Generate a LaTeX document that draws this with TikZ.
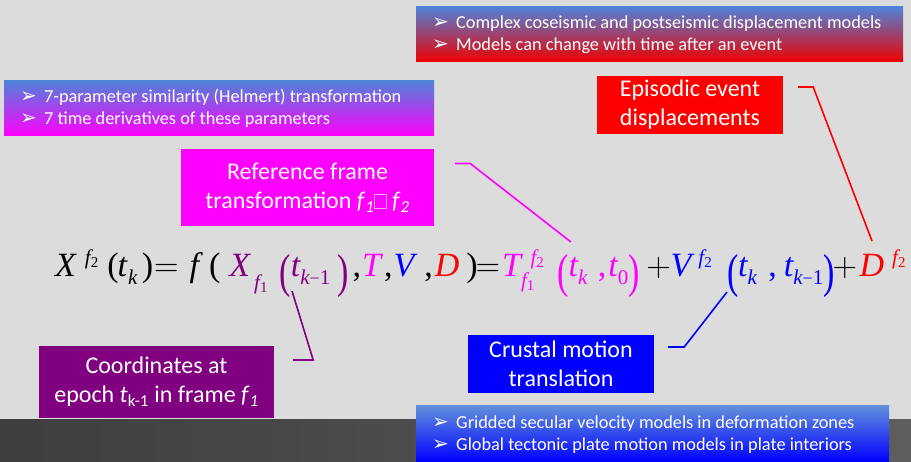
\RequirePackage{fix-cm}
\documentclass[tikz,border=0pt]{standalone}
\usepackage[no-math]{fontspec}
\usepackage{graphicx}
\setmainfont{Carlito}
\newfontfamily\symbfont{DejaVu Sans}
\newfontfamily\eqserif[NFSSFamily=lser]{Liberation Serif}
\usepackage{xcolor}
% Times-like equation: letters and digits from Liberation Serif
\DeclareSymbolFont{eqletters}{TU}{lser}{m}{it}
\DeclareSymbolFont{eqdigits}{TU}{lser}{m}{n}
\DeclareMathSymbol{X}{\mathalpha}{eqletters}{`X}
\DeclareMathSymbol{T}{\mathalpha}{eqletters}{`T}
\DeclareMathSymbol{V}{\mathalpha}{eqletters}{`V}
\DeclareMathSymbol{D}{\mathalpha}{eqletters}{`D}
\DeclareMathSymbol{f}{\mathalpha}{eqletters}{`f}
\DeclareMathSymbol{t}{\mathalpha}{eqletters}{`t}
\DeclareMathSymbol{k}{\mathalpha}{eqletters}{`k}
\DeclareMathSymbol{0}{\mathalpha}{eqdigits}{`0}
\DeclareMathSymbol{1}{\mathalpha}{eqdigits}{`1}
\DeclareMathSymbol{2}{\mathalpha}{eqdigits}{`2}
\DeclareMathSymbol{(}{\mathopen}{eqdigits}{`(}
\DeclareMathSymbol{)}{\mathclose}{eqdigits}{`)}
\DeclareMathSymbol{,}{\mathpunct}{eqdigits}{`,}
\DeclareMathSizes{34}{34}{21}{15}
\newcommand{\eqminus}{\mathbin{\hbox{\eqserif\fontsize{18}{18}\selectfont −}}}
\newcommand{\bigo}{\mathopen{\raisebox{-11pt}{\scalebox{1}[1.4]{$($}}}}
\newcommand{\bigc}{\mathclose{\raisebox{-11pt}{\scalebox{1}[1.4]{$)$}}}}
\newcommand{\lowsub}[1]{\lower5pt\hbox{$\scriptstyle #1$}}
\newcommand{\bul}{\makebox[24pt][l]{\symbfont\fontsize{20}{20}\selectfont ➢}}
\newcommand{\gapbox}{\textcolor{white!65!eqmagenta}{\fboxrule=0.6pt\fboxsep=0pt
  \fbox{\rule{0pt}{14pt}\hspace{11pt}}}}
\definecolor{slidegray}{HTML}{DCDCDC}
\definecolor{bandleft}{HTML}{3E3E3E}
\definecolor{bandright}{HTML}{5E5E5E}
\definecolor{slideblue}{HTML}{4F82D8}
\definecolor{eqpurple}{HTML}{800080}
\definecolor{eqmagenta}{HTML}{FF00FF}
\definecolor{eqblue}{HTML}{0000FF}
\definecolor{eqred}{HTML}{FF0000}

\begin{document}
\begin{tikzpicture}[
  x=1pt,
  y=-1pt,
  every node/.style={text=white},
  labelbox/.style={font=\fontsize{24}{29}\selectfont, align=center,
                   inner sep=0pt},
  listbox/.style={inner sep=0pt, minimum height=55pt},
  listtext/.style={font=\fontsize{18.3}{22.5}\selectfont, align=left,
                   anchor=west, inner sep=0pt},
  hookline/.style={line width=1.6pt}
]
  % ---- slide background ------------------------------------------------
  \useasboundingbox (0,0) rectangle (911,462);
  \fill[slidegray] (0,0) rectangle (911,462);
  \shade[left color=bandleft, right color=bandright] (0,420) rectangle (911,462);

  % ---- bullet lists ----------------------------------------------------
  \node[listbox, top color=slideblue, bottom color=eqred!93!black,
        minimum width=487pt] (epilist) at (659.5,34.5) {};
  \node[listtext] (epitext) at (432,34.5)
    {\bul Complex coseismic and postseismic displacement models\\
     \bul Models can change with time after an event};

  \node[listbox, top color=slideblue, bottom color=eqmagenta,
        minimum width=430pt] (helmlist) at (219,108.5) {};
  \node[listtext] (helmtext) at (20,108.5)
    {\bul 7-parameter similarity (Helmert) transformation\\
     \bul 7 time derivatives of these parameters};

  \node[listbox, top color=slideblue!90!white, bottom color=eqblue,
        minimum width=473pt, minimum height=56pt] (velolist) at (652.5,434) {};
  \node[listtext] (velotext) at (432,434.5)
    {\bul Gridded secular velocity models in deformation zones\\
     \bul Global tectonic plate motion models in plate interiors};

  % ---- the equation ----------------------------------------------------
  % spacing set by hand, every gap kerned to the slide's layout
  \node[anchor=base west, inner sep=0pt, text=black,
        font=\fontsize{34}{40}\selectfont] (eqn) at (55,276.7)
    {$\fontdimen16\textfont2=8pt \fontdimen17\textfont2=11pt
      X^{\kern9pt f_2}\kern8pt(\kern-1pt t_{\kern1pt k}\kern4pt)\kern1pt
      {=}\kern11pt f\kern10pt(\kern9pt
      \textcolor{eqpurple}{X_{\kern4pt\lowsub{f_1}}\kern11pt
        \bigo t_{k\eqminus 1}\kern7pt\bigc}\kern3.5pt{,}\kern1pt
      \textcolor{eqmagenta}{T}\kern3pt{,}\kern1pt
      \textcolor{eqblue}{V}\kern10pt{,}\kern2pt
      \textcolor{eqred}{D}\kern7pt)\kern-2pt{=}\kern2pt
      \textcolor{eqmagenta}{T^{\kern9.5pt f_2}_{f_1}\kern12.5pt
        \bigo t_k\kern10pt{,}\kern2pt t_0\bigc}\kern6pt
      {+}\textcolor{eqblue}{V^{\kern7pt f_2}\kern15pt
        \bigo\kern-1pt t_k\kern11pt{,}\kern7pt t_{k\eqminus 1}\kern0pt\bigc}
      \kern-2.5pt{+}\kern2.5pt\textcolor{eqred}{D^{\kern8pt f_2}}$};

  \coordinate (purplehook) at (292,291);
  \coordinate (magentahook) at (571,242);
  \coordinate (bluehook) at (727,292);
  \coordinate (redhook) at (872,241);

  % ---- labelled boxes and their hooks ----------------------------------
  \node[labelbox, fill=eqmagenta, minimum width=253pt, minimum height=77pt]
    (reframe) at (307.5,187.5)
    {Reference frame\\transformation
     \textit{f}\textsubscript{\textit{1}}\gapbox\
     \textit{f}\textsubscript{\textit{2}}};
  \draw[hookline, eqmagenta] ([shift={(21,-24)}]reframe.east) -- ++(15,0)
    -- (magentahook);

  \node[labelbox, fill=eqred, minimum width=186pt, minimum height=58pt]
    (episodic) at (690,105) {Episodic event\\displacements};
  \draw[hookline, eqred] ([shift={(15,-18)}]episodic.east) -- ++(15,0)
    -- (redhook);

  \node[labelbox, fill=eqpurple, minimum width=235pt, minimum height=72pt]
    (coords) at (156.5,382)
    {Coordinates at\\epoch \textit{t}\textsubscript{k-1} in frame
     \textit{f}\textsubscript{\textit{1}}};
  \draw[hookline, eqpurple] ([shift={(19,-22)}]coords.east) -- ++(20,0)
    -- (purplehook);

  \node[labelbox, fill=eqblue, minimum width=186pt, minimum height=58pt]
    (crustal) at (561,364) {Crustal motion\\translation};
  \draw[hookline, eqblue] ([shift={(14,-17)}]crustal.east) -- ++(16,0)
    -- (bluehook);
\end{tikzpicture}
\end{document}
